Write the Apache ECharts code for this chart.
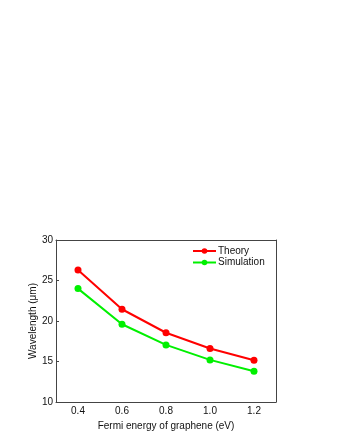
<!DOCTYPE html>
<html>
<head>
<meta charset="utf-8">
<script src="https://cdn.jsdelivr.net/npm/echarts@6/dist/echarts.min.js"></script>
<style>
  html, body { margin: 0; padding: 0; background: #fff; }
  #chart { width: 340px; height: 440px; }
</style>
</head>
<body>
<div id="chart"></div>
<script>
// Fermi energy (eV) and wavelength (μm)
const fermiEnergy = ['0.4', '0.6', '0.8', '1.0', '1.2']
const theory = [26.3, 21.45, 18.55, 16.6, 15.15]
const simulation = [24.0, 19.6, 17.05, 15.2, 13.8]

const axisColor = '#444'
const font = 'Liberation Sans, Arial, sans-serif'

const chart = echarts.init(document.getElementById('chart'), null, { renderer: 'canvas' })

const option = {
  animation: false,
  backgroundColor: '#fff',
  textStyle: { fontFamily: font },
  grid: { left: 56, right: 64, top: 240, bottom: 38 },
  legend: {
    orient: 'vertical',
    left: 187,
    top: 241,
    itemWidth: 23,
    itemHeight: 7,
    itemGap: 1.5,
    textStyle: { fontSize: 10, color: '#111', fontFamily: font, padding: [0, 0, 0, -3] },
    data: ['Theory', 'Simulation']
  },
  xAxis: [
    {
      type: 'category',
      data: fermiEnergy,
      boundaryGap: true,
      name: 'Fermi energy of graphene (eV)',
      nameLocation: 'middle',
      nameGap: 19,
      nameMoveOverlap: false,
      nameTextStyle: { fontSize: 10, color: '#111', fontFamily: font },
      axisLine: { lineStyle: { color: axisColor, width: 1 } },
      axisTick: { inside: true, length: 3, alignWithLabel: true, lineStyle: { color: axisColor } },
      axisLabel: { fontSize: 10, color: '#111', margin: 4, fontFamily: font },
      splitLine: { show: false }
    },
    {
      type: 'category',
      data: fermiEnergy,
      position: 'top',
      boundaryGap: true,
      axisLine: { lineStyle: { color: axisColor, width: 1 } },
      axisTick: { inside: true, length: 2, alignWithLabel: true, lineStyle: { color: '#bbb' } },
      axisLabel: { show: false },
      splitLine: { show: false }
    }
  ],
  yAxis: [
    {
      type: 'value',
      min: 10,
      max: 30,
      interval: 5,
      name: 'Wavelength (μm)',
      nameLocation: 'middle',
      nameGap: 18,
      nameMoveOverlap: false,
      nameTextStyle: { fontSize: 10, color: '#111', fontFamily: font },
      axisLine: { show: true, lineStyle: { color: axisColor, width: 1 } },
      axisTick: { show: true, inside: true, length: 3, lineStyle: { color: axisColor } },
      axisLabel: { fontSize: 10, color: '#111', margin: 3, fontFamily: font },
      splitLine: { show: false }
    },
    {
      type: 'value',
      min: 10,
      max: 30,
      interval: 5,
      position: 'right',
      axisLine: { show: true, lineStyle: { color: axisColor, width: 1 } },
      axisTick: { show: false },
      axisLabel: { show: false },
      splitLine: { show: false }
    }
  ],
  series: [
    {
      name: 'Theory',
      type: 'line',
      data: theory,
      symbol: 'circle',
      symbolSize: 7,
      color: '#ff0000',
      lineStyle: { width: 2, color: '#ff0000' },
      itemStyle: { color: '#ff0000' }
    },
    {
      name: 'Simulation',
      type: 'line',
      data: simulation,
      symbol: 'circle',
      symbolSize: 7,
      color: '#00f000',
      lineStyle: { width: 2, color: '#00f000' },
      itemStyle: { color: '#00f000' }
    }
  ]
}

chart.setOption(option)
</script>
</body>
</html>
